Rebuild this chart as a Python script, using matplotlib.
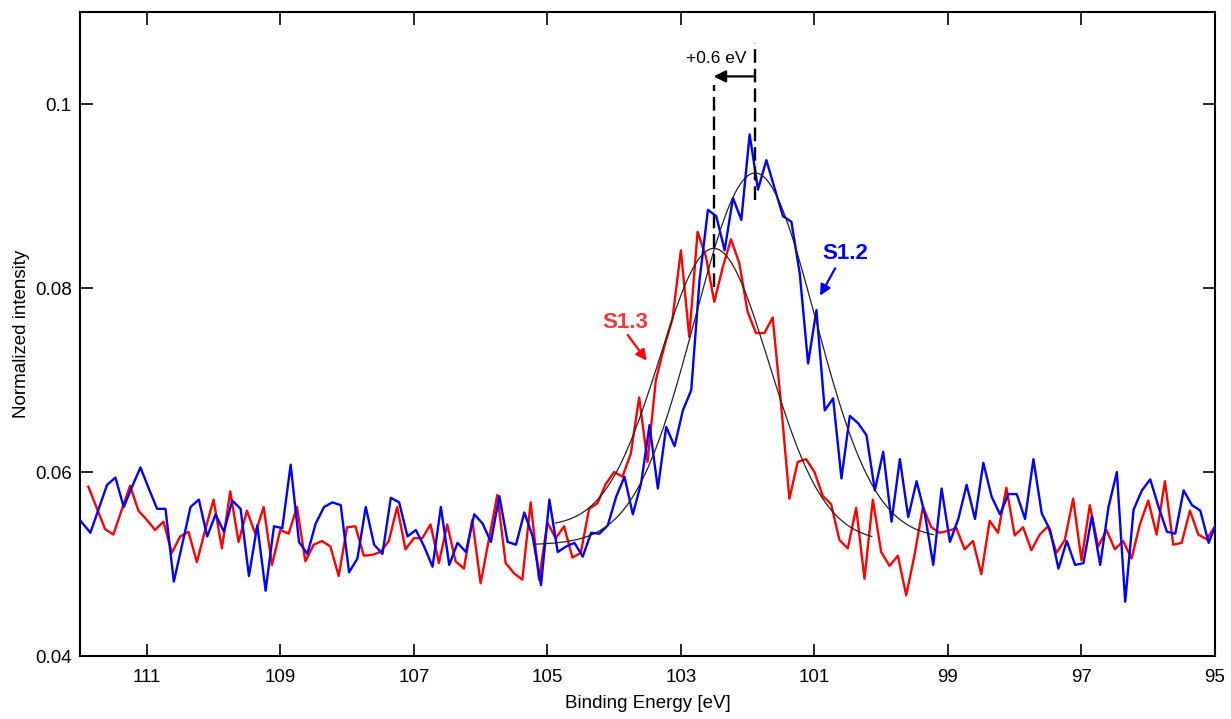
import numpy as np
import matplotlib
matplotlib.use("Agg")
import matplotlib.pyplot as plt

plt.rcParams['font.family'] = ['Liberation Sans', 'DejaVu Sans']

# S1.3 spectrum (red), 0.125 eV steps starting at 111.875 eV
s13_start, step = 111.875, 0.125
s13 = [
    0.0584, 0.0561, 0.0538, 0.0532, 0.0559, 0.0585, 0.0558, 0.0548, 0.0537, 0.0546,
    0.0512, 0.0530, 0.0535, 0.0502, 0.0537, 0.0570, 0.0517, 0.0579, 0.0524, 0.0558,
    0.0533, 0.0562, 0.0499, 0.0537, 0.0533, 0.0562, 0.0503, 0.0521, 0.0525, 0.0519,
    0.0487, 0.0540, 0.0541, 0.0509, 0.0510, 0.0513, 0.0525, 0.0562, 0.0516, 0.0528,
    0.0528, 0.0543, 0.0501, 0.0543, 0.0503, 0.0495, 0.0548, 0.0479, 0.0527, 0.0575,
    0.0501, 0.0490, 0.0483, 0.0567, 0.0483, 0.0545, 0.0528, 0.0541, 0.0507, 0.0512,
    0.0560, 0.0566, 0.0587, 0.0600, 0.0595, 0.0620, 0.0681, 0.0611, 0.0700, 0.0736,
    0.0767, 0.0841, 0.0747, 0.0861, 0.0834, 0.0785, 0.0822, 0.0853, 0.0827, 0.0774,
    0.0751, 0.0751, 0.0768, 0.0674, 0.0571, 0.0611, 0.0614, 0.0600, 0.0574, 0.0565,
    0.0526, 0.0517, 0.0561, 0.0484, 0.0570, 0.0513, 0.0498, 0.0509, 0.0466, 0.0510,
    0.0562, 0.0540, 0.0534, 0.0536, 0.0539, 0.0516, 0.0525, 0.0489, 0.0547, 0.0534,
    0.0583, 0.0531, 0.0540, 0.0515, 0.0532, 0.0541, 0.0512, 0.0526, 0.0571, 0.0504,
    0.0564, 0.0519, 0.0537, 0.0516, 0.0525, 0.0506, 0.0543, 0.0569, 0.0532, 0.0590,
    0.0521, 0.0523, 0.0558, 0.0532, 0.0527, 0.0541,
]

# S1.2 spectrum (blue)
s12_start = 112.095
s12 = [
    0.0557, 0.0545,
    0.0534, 0.0560, 0.0586, 0.0594, 0.0562, 0.0584, 0.0605, 0.0582, 0.0560, 0.0560,
    0.0481, 0.0521, 0.0562, 0.0570, 0.0530, 0.0554, 0.0535, 0.0569, 0.0560, 0.0487,
    0.0542, 0.0471, 0.0541, 0.0539, 0.0608, 0.0524, 0.0511, 0.0544, 0.0562, 0.0567,
    0.0564, 0.0491, 0.0506, 0.0562, 0.0521, 0.0511, 0.0572, 0.0567, 0.0530, 0.0537,
    0.0519, 0.0497, 0.0562, 0.0499, 0.0523, 0.0513, 0.0554, 0.0544, 0.0524, 0.0574,
    0.0524, 0.0521, 0.0556, 0.0530, 0.0477, 0.0570, 0.0513, 0.0519, 0.0523, 0.0508,
    0.0534, 0.0533, 0.0542, 0.0573, 0.0595, 0.0554, 0.0588, 0.0651, 0.0582, 0.0649,
    0.0628, 0.0667, 0.0689, 0.0809, 0.0885, 0.0878, 0.0841, 0.0898, 0.0874, 0.0967,
    0.0907, 0.0939, 0.0908, 0.0878, 0.0872, 0.0816, 0.0718, 0.0776, 0.0667, 0.0680,
    0.0593, 0.0661, 0.0653, 0.0640, 0.0580, 0.0622, 0.0546, 0.0614, 0.0551, 0.0590,
    0.0554, 0.0499, 0.0582, 0.0524, 0.0549, 0.0586, 0.0549, 0.0610, 0.0573, 0.0554,
    0.0576, 0.0576, 0.0549, 0.0614, 0.0555, 0.0537, 0.0495, 0.0525, 0.0499, 0.0501,
    0.0552, 0.0499, 0.0562, 0.0600, 0.0459, 0.0559, 0.0580, 0.0592, 0.0562, 0.0535,
    0.0533, 0.0580, 0.0564, 0.0558, 0.0523, 0.0546,
]

# Gaussian fits: centre, peak height, sigma, fit range, linear background ends
fit_s13 = dict(c=102.50, peak=0.0843, sigma=0.82, lo=100.14, hi=104.88, bg_hi=0.0540, bg_lo=0.0525)
fit_s12 = dict(c=101.89, peak=0.0925, sigma=0.90, lo=99.22, hi=105.21, bg_hi=0.0521, bg_lo=0.0527)

shift_label = "+0.6 eV"
xticks = [111, 109, 107, 105, 103, 101, 99, 97, 95]
yticks = [0.04, 0.06, 0.08, 0.1]


def energies(start, n):
    return start - step * np.arange(n)


def fit_curve(p):
    e = np.linspace(p['hi'], p['lo'], 300)
    bg = p['bg_hi'] + (p['bg_lo'] - p['bg_hi']) * (p['hi'] - e) / (p['hi'] - p['lo'])
    bg_c = p['bg_hi'] + (p['bg_lo'] - p['bg_hi']) * (p['hi'] - p['c']) / (p['hi'] - p['lo'])
    amp = p['peak'] - bg_c
    return e, bg + amp * np.exp(-(e - p['c']) ** 2 / (2 * p['sigma'] ** 2))


def arrow(tail, tip, color, scale):
    ax.annotate('', xy=tip, xytext=tail,
                arrowprops=dict(arrowstyle='-|>', color=color, lw=1.6,
                                mutation_scale=scale, shrinkA=0, shrinkB=0), zorder=6)


fig = plt.figure(figsize=(12.31, 7.19), dpi=100)
ax = fig.add_axes([0.065, 0.0876, 0.922, 0.8957])

ax.plot(energies(s13_start, len(s13)), s13, color='#ff0000', lw=1.7, zorder=3)
ax.plot(energies(s12_start, len(s12)), s12, color='#0000ff', lw=1.7, zorder=4)

for p in (fit_s13, fit_s12):
    e, y = fit_curve(p)
    ax.plot(e, y, color='#222222', lw=0.9, zorder=5)

# peak position markers and shift arrow
dash = (0, (5.8, 2.5))
ax.plot([fit_s13['c'], fit_s13['c']], [0.0801, 0.1021], color='black', lw=1.7, ls=dash, zorder=6)
ax.plot([fit_s12['c'], fit_s12['c']], [0.0896, 0.1066], color='black', lw=1.7, ls=dash, zorder=6)
arrow((fit_s12['c'], 0.1030), (fit_s13['c'] + 0.01, 0.1030), 'black', 18)
ax.text((fit_s13['c'] + fit_s12['c']) / 2 + 0.28, 0.1049, shift_label,
        ha='center', va='center', fontsize=12.5)

# series labels with pointers
ax.text(100.54, 0.0838, 'S1.2', ha='center', va='center', fontsize=16,
        fontweight='bold', color='#0000ff')
arrow((100.69, 0.08214), (100.915, 0.07916), '#0000ff', 16)
ax.text(103.84, 0.0763, 'S1.3', ha='center', va='center', fontsize=16,
        fontweight='bold', color='#f23a3a')
arrow((103.796, 0.07489), (103.512, 0.0721), '#ff0000', 16)

ax.set_xlim(112, 95)
ax.set_ylim(0.04, 0.11)
ax.set_xticks(xticks)
ax.set_yticks(yticks)
ax.set_yticklabels(['0.04', '0.06', '0.08', '0.1'])
ax.tick_params(direction='in', length=9, width=1.2, labelsize=13.5,
               top=True, right=True)
ax.tick_params(axis='x', pad=9)
ax.tick_params(axis='y', pad=6)
for s in ax.spines.values():
    s.set_linewidth(1.5)

ax.set_xlabel('Binding Energy [eV]', fontsize=13.5, labelpad=7)
ax.set_ylabel('Normalized intensity', fontsize=13.5)
ax.yaxis.set_label_coords(-0.044, 0.5)

fig.savefig('out.png', dpi=100)
